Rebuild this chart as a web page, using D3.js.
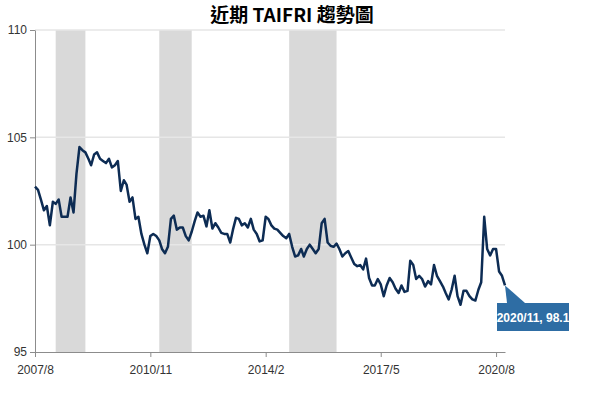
<!DOCTYPE html>
<html><head><meta charset="utf-8">
<script src="https://cdn.jsdelivr.net/npm/d3@7"></script>
<style>
body{margin:0;background:#fff}
text{font-family:"Liberation Sans",Arial,sans-serif}
</style></head>
<body><svg id="chart" width="600" height="400"></svg>
<script>
// 月次データ 2007/8 〜 2020/11
const start_year = 2007, start_month = 8;
const values = [
  102.7,102.55,102.1,101.6,101.8,
  100.9,102.0,101.9,102.1,101.3,101.3,101.3,102.2,101.5,103.3,104.55,104.4,
  104.3,104.0,103.7,104.2,104.3,104.0,103.9,103.8,104.0,103.6,103.7,103.9,
  102.5,103.0,102.8,102.0,102.2,101.2,101.3,100.5,100.0,99.6,100.4,100.5,
  100.4,100.2,99.8,99.6,99.9,101.2,101.35,100.7,100.8,100.8,100.4,100.2,
  100.6,101.1,101.5,101.3,101.35,100.85,101.6,100.75,101.0,100.8,100.55,100.5,
  100.5,100.1,100.7,101.25,101.2,100.9,101.0,100.8,101.2,100.7,100.5,100.15,
  100.2,101.3,101.2,100.9,100.75,100.7,100.55,100.4,100.3,100.5,99.9,99.45,
  99.5,99.8,99.45,99.8,100.0,99.8,99.6,99.8,101.0,101.2,100.1,99.95,
  99.9,100.05,99.8,99.45,99.6,99.7,99.4,99.1,99.0,99.05,98.85,99.35,
  98.45,98.1,98.1,98.4,98.15,97.6,98.1,98.45,98.25,97.95,97.75,98.1,
  97.8,97.85,99.25,99.05,98.4,98.55,98.4,98.05,98.3,98.15,99.05,98.55,
  98.3,98.05,97.75,97.45,97.9,98.55,97.6,97.2,97.85,97.85,97.6,97.45,
  97.4,97.9,98.25,101.3,99.8,99.5,99.8,99.8,98.75,98.55,98.1
];
// 景気後退期（網掛け）
const shade_starts = ['2008/3','2011/2','2014/10'];
const shade_ends   = ['2009/1','2012/1','2016/2'];
const x_ticks = ['2007/8','2010/11','2014/2','2017/5','2020/8'];
const y_ticks = [95,100,105,110];
const title = '近期 TAIFRI 趨勢圖';
const callout_label = '2020/11, 98.1';

const parse = s => { const [y,m] = s.split('/').map(Number); return new Date(y, m-1, 1); };
const data = values.map((v,i) => ({date: new Date(start_year, start_month-1+i, 1), v: v}));

const svg = d3.select('#chart');
const m_left = 35, m_right = 505, m_top = 30, m_bottom = 352;

const x = d3.scaleTime().domain([parse('2007/8'), data[data.length-1].date]).range([m_left, m_right]);
const y = d3.scaleLinear().domain([95,110]).range([m_bottom, m_top]);

// 網掛け
shade_starts.forEach((s,i) => {
    svg.append('rect')
        .attr('x', x(parse(s))).attr('y', m_top)
        .attr('width', x(parse(shade_ends[i])) - x(parse(s)))
        .attr('height', m_bottom - m_top)
        .attr('fill', '#d9d9d9');
});

// 横グリッド
svg.append('g').selectAll('line').data(y_ticks.filter(t => t > 95)).join('line')
    .attr('x1', m_left).attr('x2', m_right)
    .attr('y1', d => y(d)).attr('y2', d => y(d))
    .attr('stroke', '#e6e6e6').attr('stroke-width', 1.5);

// 軸
const y_axis = svg.append('g').attr('transform', `translate(${m_left},0)`)
    .call(d3.axisLeft(y).tickValues(y_ticks).tickSize(5).tickSizeOuter(0));
const x_axis = svg.append('g').attr('transform', `translate(0,${m_bottom})`)
    .call(d3.axisBottom(x).tickValues(x_ticks.map(parse)).tickFormat(d3.timeFormat('%Y/%-m')).tickSize(5).tickSizeOuter(0));
[y_axis, x_axis].forEach(a => {
    a.selectAll('path,line').attr('stroke', '#8c8c8c');
    a.selectAll('text').attr('fill', '#333').attr('font-size', 12)
        .attr('font-family', '"Liberation Sans",Arial,sans-serif');
});
x_axis.selectAll('text').attr('dy', '1.2em');

// 折れ線
svg.append('path').datum(data)
    .attr('d', d3.line().x(d => x(d.date)).y(d => y(d.v)))
    .attr('fill', 'none').attr('stroke', '#0d2c54')
    .attr('stroke-width', 2.5).attr('stroke-linejoin', 'round');

// 最終値の吹き出し
const last = data[data.length-1];
const lx = x(last.date), ly = y(last.v);
const bx = 497, by = 303, bw = 72, bh = 28;
svg.append('path')
    .attr('d', `M${lx},${ly}L${bx+10},${by}L${bx+28},${by}Z`)
    .attr('fill', '#2e6da4');
svg.append('rect').attr('x', bx).attr('y', by).attr('width', bw).attr('height', bh)
    .attr('fill', '#2e6da4');
svg.append('text').attr('x', bx + bw/2).attr('y', by + bh/2 + 5)
    .attr('text-anchor', 'middle').attr('fill', '#fff')
    .attr('font-size', 12).attr('font-weight', 'bold').text(callout_label);

// タイトル
svg.append('text').attr('x', 292).attr('y', 22).attr('text-anchor', 'middle')
    .attr('font-size', 19).attr('font-weight', 'bold')
    .style('font-family', '"Noto Sans CJK TC",sans-serif')
    .text(title);
</script></body></html>
